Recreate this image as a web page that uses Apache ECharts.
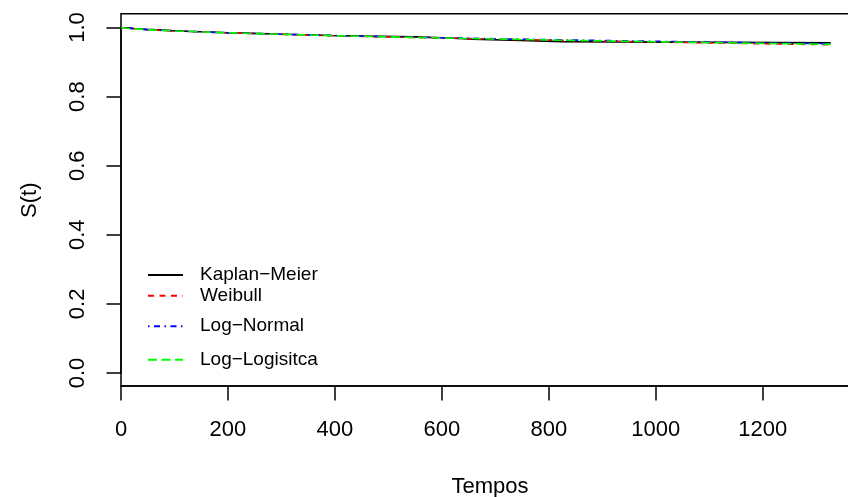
<!DOCTYPE html>
<html>
<head>
<meta charset="utf-8">
<script src="https://cdn.jsdelivr.net/npm/echarts@6/dist/echarts.min.js"></script>
<style>
html,body{margin:0;padding:0;background:#fff;}
#chart{width:848px;height:497px;}
</style>
</head>
<body>
<div id="chart"></div>
<script>
// Kaplan-Meier step estimate
var kmTimes = [0, 10, 25, 45, 70, 95, 125, 160, 200, 245, 290, 340, 395, 455, 550, 600, 634, 656, 730, 826, 1327];
var kmSurv  = [1, 0.997, 0.995, 0.993, 0.991, 0.989, 0.987, 0.985, 0.983, 0.981, 0.979, 0.977, 0.975, 0.973, 0.9705, 0.968, 0.966, 0.9635, 0.959, 0.9555, 0.9555];
// Parametric fits
var modelTimes = [0, 10, 25, 50, 100, 150, 200, 300, 400, 500, 600, 700, 800, 900, 1000, 1100, 1200, 1327];
var weibull     = [1, 0.9977, 0.9958, 0.9936, 0.9900, 0.9872, 0.9846, 0.9802, 0.9762, 0.9727, 0.9694, 0.9663, 0.9634, 0.9607, 0.9580, 0.9555, 0.9530, 0.9500];
var lognormal   = [1, 0.9985, 0.9963, 0.9938, 0.9902, 0.9873, 0.9848, 0.9805, 0.9767, 0.9733, 0.9702, 0.9674, 0.9648, 0.9623, 0.9600, 0.9578, 0.9557, 0.9532];
var loglogistic = [1, 0.9980, 0.9960, 0.9937, 0.9901, 0.9872, 0.9847, 0.9803, 0.9764, 0.9729, 0.9697, 0.9667, 0.9639, 0.9612, 0.9587, 0.9563, 0.9540, 0.9512];
var seriesNames = ['Kaplan\u2212Meier', 'Weibull', 'Log\u2212Normal', 'Log\u2212Logisitca'];
var xTickMin = 0, xTickStep = 200, xMax = 1380;
var yTickMin = 0, yTickMax = 1, yTickStep = 0.2;

function pairs(xs, ys){ return xs.map(function(x,i){ return [x, ys[i]]; }); }

var FONT = "'Liberation Sans', Arial, Helvetica, sans-serif";
var chart = echarts.init(document.getElementById('chart'), null, {renderer:'canvas'});

function legendAt(name, top){
  return {
    show:true, orient:'vertical', left:147, top:top, padding:0,
    itemWidth:35, itemHeight:12, selectedMode:false,
    itemStyle:{opacity:0, borderWidth:0},
    data:[name],
    textStyle:{fontFamily:FONT, fontSize:19, color:'#000', padding:[0,0,0,12]}
  };
}

var option = {
  animation:false,
  backgroundColor:'#fff',
  textStyle:{fontFamily:FONT},
  grid:[
    {left:121, top:13.7, width:738, height:372.3, show:true, borderColor:'#000', borderWidth:1.5, backgroundColor:'transparent', outerBoundsMode:'none', containLabel:false},
    {left:121, top:27.5, width:738, height:345.5, show:false, outerBoundsMode:'none', containLabel:false}
  ],
  xAxis:[
    {gridIndex:0, type:'value', min:xTickMin, max:xMax, interval:xTickStep, position:'bottom',
     axisLine:{show:true, onZero:false, lineStyle:{color:'#000', width:1.5}},
     axisTick:{show:true, inside:false, length:14.5, lineStyle:{color:'#000', width:1.5}},
     axisLabel:{show:true, margin:33, fontSize:22, color:'#000', fontFamily:FONT, showMaxLabel:false, hideOverlap:false,
       formatter:function(v){ return String(v); }},
     splitLine:{show:false},
     name:'Tempos', nameLocation:'middle', nameGap:90,
     nameTextStyle:{fontSize:22, color:'#000', fontFamily:FONT}},
    {gridIndex:1, type:'value', min:xTickMin, max:xMax, show:false, axisLine:{onZero:false}, splitLine:{show:false}}
  ],
  yAxis:[
    {gridIndex:0, type:'value', min:-0.04, max:1.04, show:false, axisLine:{onZero:false}, splitLine:{show:false}},
    {gridIndex:1, type:'value', min:yTickMin, max:yTickMax, interval:yTickStep, position:'left',
     axisLine:{show:true, onZero:false, lineStyle:{color:'#000', width:1.5}},
     axisTick:{show:true, inside:false, length:14.5, lineStyle:{color:'#000', width:1.5}},
     axisLabel:{show:true, rotate:90, margin:32, fontSize:22, color:'#000', fontFamily:FONT,
       formatter:function(v){ return v.toFixed(1); }, hideOverlap:false},
     splitLine:{show:false},
     name:'S(t)', nameLocation:'middle', nameGap:80, nameRotate:90,
     nameTextStyle:{fontSize:22, color:'#000', fontFamily:FONT}}
  ],
  legend:[
    legendAt(seriesNames[0], 265.5),
    legendAt(seriesNames[1], 286.2),
    legendAt(seriesNames[2], 316.7),
    legendAt(seriesNames[3], 350.3)
  ],
  series:[
    {name:seriesNames[0], type:'line', xAxisIndex:1, yAxisIndex:1, step:'end', symbol:'none', clip:true,
     data:pairs(kmTimes, kmSurv), lineStyle:{color:'#000', width:1.6, type:'solid'}, itemStyle:{color:'#000'}},
    {name:seriesNames[1], type:'line', xAxisIndex:1, yAxisIndex:1, symbol:'none', clip:true, smooth:false,
     data:pairs(modelTimes, weibull), lineStyle:{color:'#FF0000', width:1.6, type:[6,5.5]}, itemStyle:{color:'#FF0000'}},
    {name:seriesNames[2], type:'line', xAxisIndex:1, yAxisIndex:1, symbol:'none', clip:true, smooth:false,
     data:pairs(modelTimes, lognormal), lineStyle:{color:'#0000FF', width:1.6, type:[1.5,4.5,6,4.5]}, itemStyle:{color:'#0000FF'}},
    {name:seriesNames[3], type:'line', xAxisIndex:1, yAxisIndex:1, symbol:'none', clip:true, smooth:false,
     data:pairs(modelTimes, loglogistic), lineStyle:{color:'#00FF00', width:1.6, type:[9,4.5]}, itemStyle:{color:'#00FF00'}}
  ]
};
chart.setOption(option);
</script>
</body>
</html>
